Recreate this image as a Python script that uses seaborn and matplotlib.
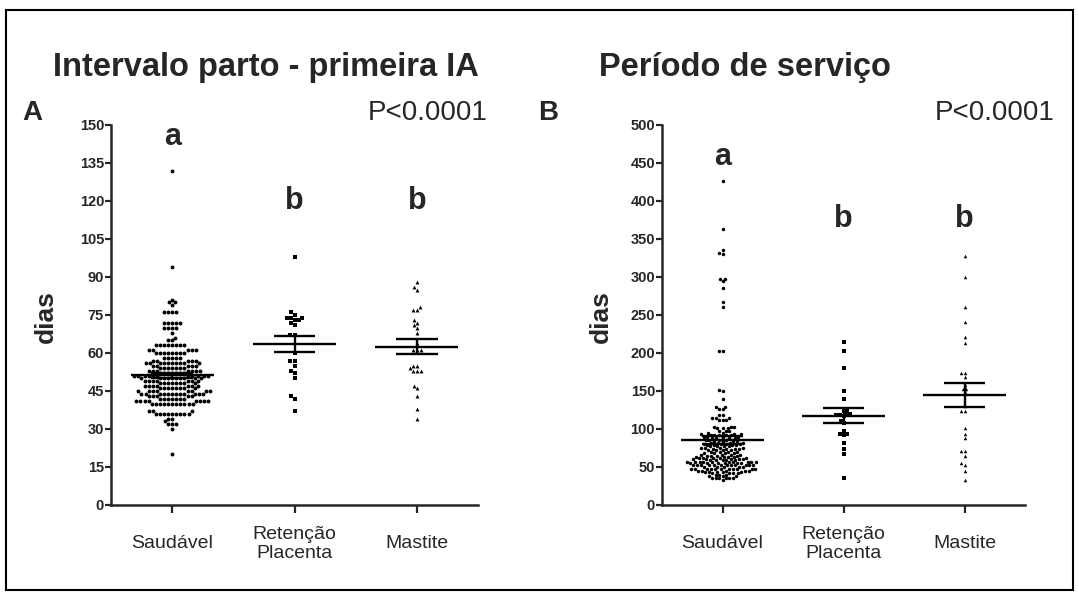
import numpy as np
import pandas as pd
import matplotlib
matplotlib.use('Agg')
import matplotlib.pyplot as plt
import seaborn as sns
from matplotlib.patches import Rectangle

grupos = ['Saudável', 'Retenção\nPlacenta', 'Mastite']
marcadores = ['o', 's', '^']

# A - intervalo parto / primeira IA (dias): valor lido e nº de pontos nesse valor
saudavel_a_val = [20, 30, 32, 33, 34, 36, 37, 40, 41, 42, 43, 44, 45, 46, 47, 48, 49, 50, 51, 52,
                  53, 54, 55, 56, 57, 58, 60, 61, 63, 65, 66, 68, 70, 72, 76, 79, 80, 81, 94, 132]
saudavel_a_n = [1, 1, 3, 1, 2, 9, 3, 11, 8, 7, 5, 12, 8, 8, 7, 8, 7, 10, 11, 7,
                7, 7, 5, 10, 5, 5, 8, 5, 8, 2, 1, 1, 4, 5, 4, 1, 2, 1, 1, 1]
retencao_a = [98, 76, 75, 74, 74, 74, 73, 73, 72, 71, 67, 67, 60, 57, 57, 55, 53, 52, 50, 43, 42, 37]
mastite_a = [88, 86, 85, 78, 77, 77, 73, 72, 71, 70, 68, 64, 61, 61, 61, 55, 55, 54, 53, 53, 53,
             47, 46, 43, 38, 34]
media_a = [51.3, 63.6, 62.5]
epm_a = [1.0, 3.1, 3.0]

# B - período de serviço (dias)
saudavel_b_val = [33, 35, 36, 38, 40, 42, 44, 45, 47, 48, 50, 52, 53, 55, 56, 57, 59, 60, 62, 63,
                  65, 66, 68, 70, 72, 74, 75, 77, 79, 80, 82, 84, 86, 88, 90, 92, 93, 95, 97, 101,
                  103, 112, 115, 118, 126, 129, 140, 150, 151, 202, 261, 267, 286, 295, 298, 330,
                  331, 335, 363, 426]
saudavel_b_n = [1, 3, 3, 3, 3, 4, 5, 5, 6, 5, 5, 6, 6, 6, 5, 5, 5, 5, 5, 4,
                4, 4, 4, 4, 4, 4, 4, 4, 4, 4, 4, 4, 4, 4, 4, 5, 3, 2, 3, 3,
                3, 3, 3, 2, 2, 2, 1, 1, 1, 2, 1, 1, 1, 1, 2, 1,
                1, 1, 1, 1]
retencao_b = [215, 202, 180, 150, 140, 124, 124, 120, 119, 118, 118, 117, 111, 108, 98, 93, 93, 92,
              81, 74, 67, 36]
mastite_b = [328, 300, 261, 241, 221, 213, 174, 174, 168, 158, 153, 153, 149, 130, 124, 124, 101,
             94, 88, 71, 71, 64, 55, 53, 45, 33]
media_b = [85.5, 117.5, 144.5]
epm_b = [5.0, 9.5, 15.5]

W, H = 1079, 592


def monta(saud_val, saud_n, ret, mast):
    partes = [
        pd.DataFrame({'grupo': grupos[0], 'dias': np.repeat(saud_val, saud_n)}),
        pd.DataFrame({'grupo': grupos[1], 'dias': ret}),
        pd.DataFrame({'grupo': grupos[2], 'dias': mast}),
    ]
    return pd.concat(partes, ignore_index=True)


def painel(ax, df, media, epm, ymax, passo, tam):
    for g, m in zip(grupos, marcadores):
        sub = df[df['grupo'] == g]
        sns.swarmplot(data=sub, x='grupo', y='dias', order=grupos, marker=m,
                      color='black', size=tam, linewidth=0, ax=ax, warn_thresh=1)
    for i, (mu, e) in enumerate(zip(media, epm)):
        ax.hlines(mu, i - 0.34, i + 0.34, color='black', lw=1.7, zorder=5)
        ax.hlines([mu - e, mu + e], i - 0.17, i + 0.17, color='black', lw=1.7, zorder=5)
        ax.vlines(i, mu - e, mu + e, color='black', lw=1.7, zorder=5)
    ax.set_xlim(-0.5, 2.5)
    ax.set_ylim(0, ymax)
    ax.set_yticks(range(0, ymax + 1, passo))
    ax.set_xlabel('')
    ax.set_ylabel('')
    sns.despine(ax=ax)
    for s in ['left', 'bottom']:
        ax.spines[s].set_linewidth(1.8)
    ax.tick_params(axis='y', length=4, width=1.6, labelsize=10.5, pad=1)
    ax.tick_params(axis='x', length=6, width=1.6, labelsize=14, pad=22)
    for t in ax.get_yticklabels():
        t.set_fontweight('bold')
    for t in ax.get_xticklabels():
        t.set_va('center')


sns.set_style('ticks')
plt.rcParams['font.family'] = ['Liberation Sans', 'DejaVu Sans']

fig = plt.figure(figsize=(W / 100, H / 100), dpi=100)
ax_a = fig.add_axes([111 / W, 1 - 505 / H, 367 / W, 380 / H])
ax_b = fig.add_axes([662 / W, 1 - 505 / H, 363 / W, 380 / H])

painel(ax_a, monta(saudavel_a_val, saudavel_a_n, retencao_a, mastite_a),
       media_a, epm_a, 150, 15, 2.8)
painel(ax_b, monta(saudavel_b_val, saudavel_b_n, retencao_b, mastite_b),
       media_b, epm_b, 500, 50, 2.5)

# letras de significância
for x, y, s in [(0, 142, 'a'), (1, 117, 'b'), (2, 117, 'b')]:
    ax_a.text(x, y, s, ha='center', va='baseline', fontsize=22, fontweight='bold')
for x, y, s in [(0, 447, 'a'), (1, 366, 'b'), (2, 366, 'b')]:
    ax_b.text(x, y, s, ha='center', va='baseline', fontsize=22, fontweight='bold')


def ftxt(x, y, s, **kw):
    fig.text(x / W, 1 - y / H, s, **kw)


ftxt(266, 76, 'Intervalo parto - primeira IA', ha='center', va='baseline', fontsize=23.5, fontweight='bold')
ftxt(745, 76, 'Período de serviço', ha='center', va='baseline', fontsize=23.5, fontweight='bold')
ftxt(22, 120, 'A', ha='left', va='baseline', fontsize=20, fontweight='bold')
ftxt(538, 120, 'B', ha='left', va='baseline', fontsize=20, fontweight='bold')
ftxt(488, 120, 'P<0.0001', ha='right', va='baseline', fontsize=20)
ftxt(1055, 120, 'P<0.0001', ha='right', va='baseline', fontsize=20)
ftxt(46, 317, 'dias', ha='center', va='center', rotation=90, fontsize=19, fontweight='bold')
ftxt(601, 317, 'dias', ha='center', va='center', rotation=90, fontsize=19, fontweight='bold')

fig.add_artist(Rectangle((6 / W, 1 - 590 / H), 1067 / W, 580 / H, fill=False,
                         lw=1.5, edgecolor='black', transform=fig.transFigure))

fig.savefig('out.png', dpi=100)
